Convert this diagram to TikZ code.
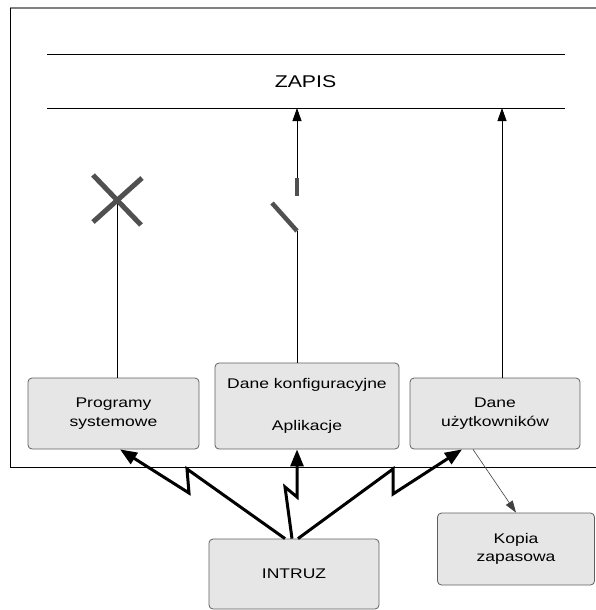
\documentclass[tikz,border=0pt]{standalone}
\usepackage{fontspec}
\setmainfont{Liberation Sans}
\newfontfamily\szerokifont[FakeStretch=1.25]{Liberation Sans}
\usetikzlibrary{arrows.meta,
	calc,
	positioning}
\definecolor{skrzynka}{RGB}{230,230,230}
\definecolor{obrys}{RGB}{96,96,96}
\definecolor{belkakolor}{RGB}{80,80,80}

\begin{document}
\begin{tikzpicture}[x=1pt,y=-1pt,
	blok/.style={draw=obrys, fill=skrzynka, rounded corners=4pt, align=center, inner sep=0pt,
		line width=0.8pt, font=\szerokifont\fontsize{14}{18.5}\selectfont},
	cienka/.style={line width=0.8pt},
	grot/.style={-{Triangle[length=13pt,width=9pt]}},
	piorun/.style={line width=3pt, line join=miter, miter limit=3,
		-{Triangle[length=17pt,width=13pt]}},
	belka/.style={belkakolor, line width=5pt}]
\useasboundingbox (0,0) rectangle (596,610);

% ramka systemu
\draw[gray, line width=2pt] (10,8) -- (600,8);
\draw[cienka] (10,8) -- (10,467) -- (600,467);

% zapis
\foreach \y in {54,108}
	\draw[cienka] (47,\y) -- (565,\y);
\node[font=\szerokifont\fontsize{17}{20}\selectfont] (zapis) at (305.5,81.5) {ZAPIS};
\coordinate (zapisdol) at (0,108);

% bloki
\node[blok, minimum width=171pt, minimum height=71pt] (prog) at (113.5,413.5) {Programy\\systemowe};
\node[blok, minimum width=184pt, minimum height=86pt] (konf) at (307,406) {Dane konfiguracyjne\\[23.5pt]Aplikacje};
\node[blok, minimum width=170pt, minimum height=71pt] (uzyt) at (495,413.5) {Dane\\u\.zytkownik\'ow};
\node[blok, minimum width=157pt, minimum height=72pt] (kopia) at (516,549) {Kopia\\zapasowa};
\node[blok, minimum width=170pt, minimum height=70pt] (intruz) at (294,574) {INTRUZ};

% programy - zablokowane
\coordinate (krzyz) at (117,200);
\draw[cienka] (krzyz) -- (krzyz |- prog.north);
\draw[belka] ($(krzyz)+(-24,-25)$) -- ($(krzyz)+(24,25)$);
\draw[belka] ($(krzyz)+(25,-22)$) -- ($(krzyz)+(-24,22)$);

% konfiguracja - przelacznik
\coordinate (styk) at (297,178);
\coordinate (przelacznik) at (297,231);
\draw[cienka, grot] (styk) -- (styk |- zapisdol);
\draw[belka, line width=4.5pt] (styk) -- (297,196);
\draw[belka, line width=4.5pt] (272,203) -- (przelacznik);
\draw[cienka] (przelacznik) -- (przelacznik |- konf.north);

% dane uzytkownikow
\coordinate (dane) at (502,378);
\draw[cienka, grot] (dane) -- (dane |- zapisdol);
\draw[black!75, line width=0.6pt, -{Triangle[length=12pt,width=8pt]}] ([xshift=-22pt]uzyt.south) -- (kopia.north);

% ataki intruza
\draw[piorun] ([xshift=-9pt]intruz.north) -- (187,469) -- (189,493) -- ([xshift=6.5pt]prog.south);
\draw[piorun] ([xshift=-2pt]intruz.north) -- (285,487) -- (297,497) -- ([xshift=-10pt]konf.south);
\draw[piorun] ([xshift=4pt]intruz.north) -- (393,469) -- (393,494) -- ([xshift=-33pt]uzyt.south);
\end{tikzpicture}
\end{document}
